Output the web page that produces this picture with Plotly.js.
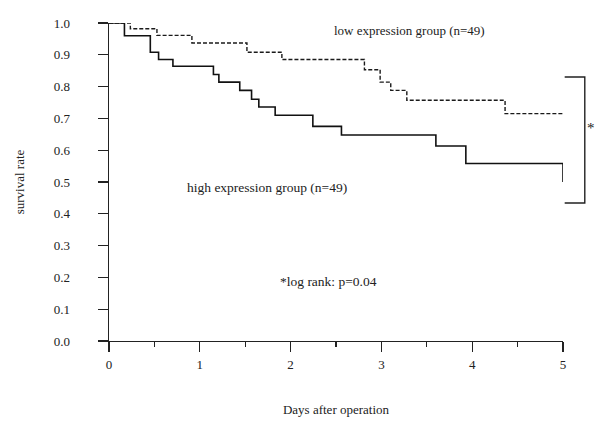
<!DOCTYPE html>
<html>
<head>
<meta charset="utf-8">
<script src="https://cdn.plot.ly/plotly-3.0.1.min.js"></script>
<style>html,body{margin:0;padding:0;background:#fff;}#chart{width:595px;height:422px;}</style>
</head>
<body>
<div id="chart"></div>
<script>
// High expression group (solid) step points
const highDays = [0, 0.17, 0.455, 0.546, 0.704, 1.15, 1.21, 1.44, 1.57, 1.65, 1.83, 2.245, 2.56, 3.60, 3.93, 5.0];
const highSurv = [1.0, 0.96, 0.908, 0.885, 0.864, 0.838, 0.814, 0.788, 0.760, 0.736, 0.710, 0.675, 0.648, 0.613, 0.558, 0.50];
// Low expression group (dashed) step points
const lowDays = [0, 0.235, 0.528, 0.913, 1.519, 1.904, 2.813, 2.986, 3.103, 3.28, 4.362, 5.0];
const lowSurv = [1.0, 0.982, 0.961, 0.937, 0.908, 0.885, 0.853, 0.814, 0.788, 0.757, 0.715, 0.715];

const yTicks = [0, 0.1, 0.2, 0.3, 0.4, 0.5, 0.6, 0.7, 0.8, 0.9, 1.0];
const xTicks = [0, 1, 2, 3, 4, 5];

const FONT = 'Liberation Serif, Times New Roman, serif';

const traces = [
  {x: lowDays, y: lowSurv, mode: 'lines', line: {shape: 'hv', color: '#1a1a1a', width: 1.4, dash: '4px,2px'}, hoverinfo: 'skip', cliponaxis: false},
  {x: highDays, y: highSurv, mode: 'lines', line: {shape: 'hv', color: '#111', width: 1.6}, hoverinfo: 'skip', cliponaxis: false}
];

const layout = {
  width: 595, height: 422,
  margin: {l: 108.7, r: 32.3, t: 22.5, b: 81},
  paper_bgcolor: '#fff', plot_bgcolor: '#fff',
  showlegend: false,
  font: {family: FONT, color: '#222', size: 12},
  xaxis: {
    range: [0, 5], tickvals: xTicks, ticktext: xTicks.map(String),
    showgrid: false, zeroline: false, showline: true, linecolor: '#222', linewidth: 1.4,
    ticks: 'outside', ticklen: 10, tickwidth: 1.1, tickcolor: '#222',
    minor: {dtick: 0.5, ticks: 'outside', ticklen: 5, tickcolor: '#222', showgrid: false},
    tickfont: {family: FONT, size: 13, color: '#222'}, ticklabelstandoff: 1,
    title: {text: 'Days after operation', font: {family: FONT, size: 13, color: '#222'}, standoff: 34},
    automargin: false, fixedrange: true
  },
  yaxis: {
    range: [0, 1], tickvals: yTicks, ticktext: yTicks.map(v => v.toFixed(1)),
    showgrid: false, zeroline: false, showline: true, linecolor: '#222', linewidth: 1.4,
    ticks: 'outside', ticklen: 10, tickwidth: 1.1, tickcolor: '#222',
    tickfont: {family: FONT, size: 13, color: '#222'}, ticklabelstandoff: 25,
    title: {text: 'survival rate', font: {family: FONT, size: 13, color: '#222'}, standoff: 26},
    automargin: false, fixedrange: true
  },
  shapes: [
    {type: 'path', xref: 'paper', yref: 'paper', path: 'M 1.0037 0.83 L 1.048 0.83 L 1.048 0.434 L 1.0037 0.434', line: {color: '#222', width: 1.4}}
  ],
  annotations: [
    {x: 2.457, y: 0.976, xref: 'x', yref: 'y', text: 'low expression group (n=49)', showarrow: false, xanchor: 'left', yanchor: 'middle', font: {family: FONT, size: 13, color: '#222'}},
    {x: 0.84, y: 0.4835, xref: 'x', yref: 'y', text: 'high expression group (n=49)', showarrow: false, xanchor: 'left', yanchor: 'middle', font: {family: FONT, size: 13.5, color: '#222'}},
    {x: 1.863, y: 0.188, xref: 'x', yref: 'y', text: '*log rank: p=0.04', showarrow: false, xanchor: 'left', yanchor: 'middle', font: {family: FONT, size: 13.5, color: '#222'}},
    {x: 1.062, y: 0.669, xref: 'paper', yref: 'paper', text: '*', showarrow: false, xanchor: 'center', yanchor: 'middle', font: {family: FONT, size: 15, color: '#222'}}
  ]
};

Plotly.newPlot('chart', traces, layout, {staticPlot: true, displayModeBar: false});
</script>
</body>
</html>
